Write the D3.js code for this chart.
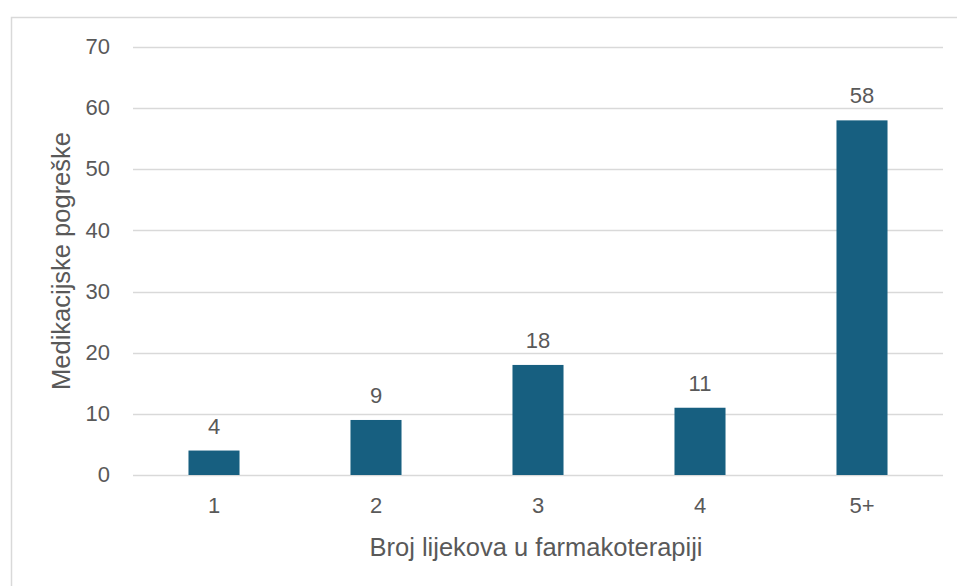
<!DOCTYPE html>
<html>
<head>
<meta charset="utf-8">
<script src="https://cdnjs.cloudflare.com/ajax/libs/d3/7.8.5/d3.min.js"></script>
<style>
  body { margin: 0; background: #fff; }
  text { font-family: "Liberation Sans", Arial, sans-serif; fill: #595959; }
</style>
</head>
<body>
<div id="chart"></div>
<script>
// chart data
let categories = ['1', '2', '3', '4', '5+'];
let values = [4, 9, 18, 11, 58];
let yTicks = [0, 10, 20, 30, 40, 50, 60, 70];
let xTitle = 'Broj lijekova u farmakoterapiji';
let yTitle = 'Medikacijske pogreške';

let svgWidth = 957;
let svgHeight = 586;

let margin = { top: 47, left: 133, right: 14, bottom: 111 };
let width = svgWidth - margin.left - margin.right;
let height = svgHeight - margin.top - margin.bottom;

let svg = d3.select('#chart')
    .append('svg')
    .attr('width', svgWidth)
    .attr('height', svgHeight);

// outer chart border (runs off right and bottom)
svg.append('rect')
    .attr('x', 11.5)
    .attr('y', 17.5)
    .attr('width', svgWidth)
    .attr('height', svgHeight)
    .attr('fill', 'none')
    .attr('stroke', '#d9d9d9')
    .attr('stroke-width', 1.5);

let g = svg.append('g')
    .attr('transform', `translate(${margin.left}, ${margin.top})`);

let x = d3.scaleBand()
    .domain(categories)
    .range([0, width])
    .paddingInner(0.685)
    .paddingOuter(0.3425);

let y = d3.scaleLinear()
    .domain([0, 70])
    .range([height, 0]);

// gridlines
g.selectAll('.grid')
    .data(yTicks)
    .enter()
    .append('line')
    .attr('x1', 0)
    .attr('x2', width)
    .attr('y1', d => Math.round(y(d)) + 0.5)
    .attr('y2', d => Math.round(y(d)) + 0.5)
    .attr('stroke', '#d9d9d9')
    .attr('stroke-width', 1.5);

// y tick labels
let leftAxis = d3.axisLeft(y).tickValues(yTicks).tickSize(0).tickPadding(23);
let yAxis = g.append('g').call(leftAxis);
yAxis.select('.domain').remove();
yAxis.selectAll('text')
    .style('font-size', '22px')
    .style('font-family', '"Liberation Sans", Arial, sans-serif')
    .attr('fill', '#595959')
    .attr('dy', '0.3em');

// bars
g.selectAll('.bar')
    .data(values)
    .enter()
    .append('rect')
    .attr('x', (d, i) => x(categories[i]))
    .attr('y', d => y(d))
    .attr('width', x.bandwidth())
    .attr('height', d => height - y(d))
    .attr('fill', '#175f80');

// value labels
g.selectAll('.val')
    .data(values)
    .enter()
    .append('text')
    .attr('x', (d, i) => x(categories[i]) + x.bandwidth() / 2)
    .attr('y', d => y(d) - 17)
    .attr('text-anchor', 'middle')
    .style('font-size', '22px')
    .text(d => d);

// x tick labels
let bottomAxis = d3.axisBottom(x).tickSize(0).tickPadding(22);
let xAxis = g.append('g')
    .attr('transform', `translate(0, ${height})`)
    .call(bottomAxis);
xAxis.select('.domain').remove();
xAxis.selectAll('text')
    .style('font-size', '22px')
    .style('font-family', '"Liberation Sans", Arial, sans-serif')
    .attr('fill', '#595959');

// axis titles
svg.append('text')
    .attr('x', margin.left + width / 2 - 2)
    .attr('y', 556)
    .attr('text-anchor', 'middle')
    .style('font-size', '25.5px')
    .text(xTitle);

svg.append('text')
    .attr('transform', `translate(70, ${margin.top + height / 2}) rotate(-90)`)
    .attr('text-anchor', 'middle')
    .style('font-size', '25.5px')
    .text(yTitle);
</script>
</body>
</html>
